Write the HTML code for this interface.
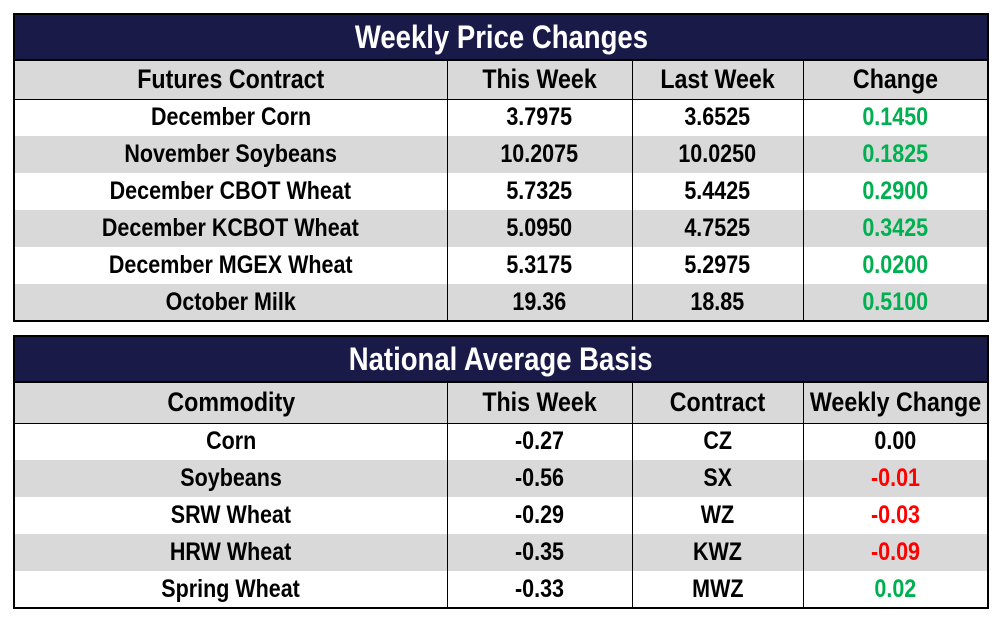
<!DOCTYPE html>
<html><head><style>
body{margin:0;width:1003px;height:620px;background:#fff;position:relative;font-family:"Liberation Sans",sans-serif;font-weight:bold;}
table{position:absolute;left:13px;width:976px;border-collapse:collapse;border:2px solid #000;table-layout:fixed}
td{border-left:1px solid #000;border-right:1px solid #000;text-align:center;font-size:25px;padding:0;color:#000;white-space:nowrap;overflow:hidden}
td span{display:inline-block;transform:scaleX(0.86)}
.t td{background:#1a1a48;color:#fff;font-size:32px;border-bottom:2px solid #000}
.h td{background:#d9d9d9;font-size:27px;border-bottom:1px solid #000}
.g td{background:#d9d9d9}
.gr{color:#00b050!important}.rd{color:#f00!important}
</style></head><body>
<table style="top:13px">
<colgroup><col style="width:433px"><col style="width:185px"><col style="width:171px"><col style="width:185px"></colgroup>
<tr class="t" style="height:46px"><td colspan="4"><span>Weekly Price Changes</span></td></tr>
<tr class="h" style="height:39px"><td><span>Futures Contract</span></td><td><span>This Week</span></td><td><span>Last Week</span></td><td><span>Change</span></td></tr>
<tr style="height:37px"><td><span>December Corn</span></td><td><span>3.7975</span></td><td><span>3.6525</span></td><td class="gr"><span>0.1450</span></td></tr>
<tr class="g" style="height:37px"><td><span>November Soybeans</span></td><td><span>10.2075</span></td><td><span>10.0250</span></td><td class="gr"><span>0.1825</span></td></tr>
<tr style="height:37px"><td><span>December CBOT Wheat</span></td><td><span>5.7325</span></td><td><span>5.4425</span></td><td class="gr"><span>0.2900</span></td></tr>
<tr class="g" style="height:37px"><td><span>December KCBOT Wheat</span></td><td><span>5.0950</span></td><td><span>4.7525</span></td><td class="gr"><span>0.3425</span></td></tr>
<tr style="height:37px"><td><span>December MGEX Wheat</span></td><td><span>5.3175</span></td><td><span>5.2975</span></td><td class="gr"><span>0.0200</span></td></tr>
<tr class="g" style="height:37px"><td><span>October Milk</span></td><td><span>19.36</span></td><td><span>18.85</span></td><td class="gr"><span>0.5100</span></td></tr>
</table>
<table style="top:335px">
<colgroup><col style="width:433px"><col style="width:185px"><col style="width:171px"><col style="width:185px"></colgroup>
<tr class="t" style="height:46px"><td colspan="4"><span>National Average Basis</span></td></tr>
<tr class="h" style="height:41px"><td><span>Commodity</span></td><td><span>This Week</span></td><td><span>Contract</span></td><td><span style="margin:0 -30px">Weekly Change</span></td></tr>
<tr style="height:37px"><td><span>Corn</span></td><td><span>-0.27</span></td><td><span>CZ</span></td><td><span>0.00</span></td></tr>
<tr class="g" style="height:37px"><td><span>Soybeans</span></td><td><span>-0.56</span></td><td><span>SX</span></td><td class="rd"><span>-0.01</span></td></tr>
<tr style="height:37px"><td><span>SRW Wheat</span></td><td><span>-0.29</span></td><td><span>WZ</span></td><td class="rd"><span>-0.03</span></td></tr>
<tr class="g" style="height:37px"><td><span>HRW Wheat</span></td><td><span>-0.35</span></td><td><span>KWZ</span></td><td class="rd"><span>-0.09</span></td></tr>
<tr style="height:37px"><td><span>Spring Wheat</span></td><td><span>-0.33</span></td><td><span>MWZ</span></td><td class="gr"><span>0.02</span></td></tr>
</table>
</body></html>
